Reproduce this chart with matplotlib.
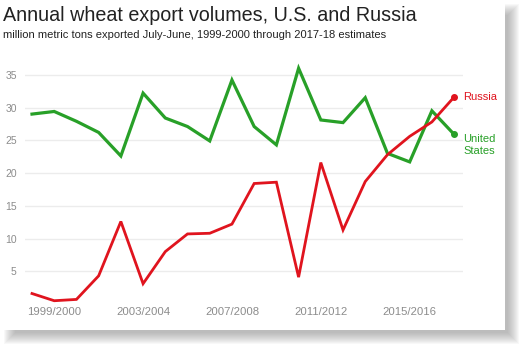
import matplotlib as mpl
import matplotlib.pyplot as plt
from matplotlib.patches import Rectangle

# data (million metric tons, July-June)
seasons = ['1998/1999', '1999/2000', '2000/2001', '2001/2002', '2002/2003',
           '2003/2004', '2004/2005', '2005/2006', '2006/2007', '2007/2008',
           '2008/2009', '2009/2010', '2010/2011', '2011/2012', '2012/2013',
           '2013/2014', '2014/2015', '2015/2016', '2016/2017', '2017/2018']
us_exports = [29.0, 29.4, 27.9, 26.2, 22.6, 32.2, 28.4, 27.1, 24.9, 34.2,
              27.1, 24.3, 36.0, 28.1, 27.7, 31.5, 23.0, 21.7, 29.5, 25.9]
russia_exports = [1.6, 0.5, 0.7, 4.3, 12.6, 3.1, 8.0, 10.7, 10.8, 12.2,
                  18.4, 18.6, 4.1, 21.6, 11.3, 18.7, 22.8, 25.6, 27.8, 31.6]
tick_labels = ['1999/2000', '2003/2004', '2007/2008', '2011/2012', '2015/2016']
y_ticks = [5, 10, 15, 20, 25, 30, 35]

RED = '#e0141e'
GREEN = '#28a028'
GRAY = '#8c8c8c'
W, H = 520, 347

mpl.rcParams['font.family'] = ['Liberation Sans', 'DejaVu Sans']

fig = plt.figure(figsize=(W / 100, H / 100), dpi=100)
fig.patch.set_facecolor('white')

# soft drop shadow to the right and below the card
for j in range(12):
    x0, y0 = 4 + j, 4 + j
    x1, y1 = 519 - j, 344 - j
    fig.patches.append(Rectangle((x0 / W, (H - y1) / H), (x1 - x0) / W, (y1 - y0) / H,
                                 transform=fig.transFigure, facecolor='#808080',
                                 edgecolor='none', alpha=0.055, zorder=0))
fig.patches.append(Rectangle((0, (H - 330) / H), 505 / W, 330 / H,
                             transform=fig.transFigure, facecolor='white',
                             edgecolor='none', zorder=1))

ax = fig.add_axes([25 / W, (H - 304) / H, (463 - 25) / W, (304 - 61.7) / H])
ax.set_facecolor('none')
ax.set_zorder(2)

x = list(range(len(seasons)))
ax.plot(x, us_exports, color=GREEN, lw=2.3, solid_joinstyle='miter', zorder=3)
ax.plot(x, russia_exports, color=RED, lw=2.0, solid_joinstyle='miter', zorder=4)
ax.plot(x[-1], us_exports[-1], 'o', color=GREEN, ms=4, zorder=5)
ax.plot(x[-1], russia_exports[-1], 'o', color=RED, ms=4, zorder=5)

ax.text(x[-1] + 0.4, russia_exports[-1], 'Russia', color=RED, fontsize=8,
        va='center', ha='left', clip_on=False)
ax.text(x[-1] + 0.4, us_exports[-1], 'United\nStates', color=GREEN, fontsize=8,
        va='top', ha='left', linespacing=1.25, clip_on=False)

ax.set_xlim(-0.315, 19.4)
ax.set_ylim(0, 37)
ax.set_yticks(y_ticks)
ax.set_yticklabels([str(v) for v in y_ticks])
ax.set_xticks([seasons.index(s) for s in tick_labels])
ax.set_xticklabels(tick_labels)
ax.grid(axis='y', color='#ececec', lw=1)
ax.set_axisbelow(True)
for s in ax.spines.values():
    s.set_visible(False)
ax.tick_params(axis='both', length=0, colors=GRAY)
ax.tick_params(axis='x', labelsize=8.2, pad=2)
ax.tick_params(axis='y', labelsize=7.5, pad=6)

fig.text(3 / W, 1 - 21 / H, 'Annual wheat export volumes, U.S. and Russia',
         fontsize=14.2, color='#222222', va='baseline', ha='left', zorder=3)
fig.text(3 / W, 1 - 37.5 / H,
         'million metric tons exported July-June, 1999-2000 through 2017-18 estimates',
         fontsize=8.0, color='#222222', va='baseline', ha='left', zorder=3)

fig.savefig('out.png', dpi=100)
